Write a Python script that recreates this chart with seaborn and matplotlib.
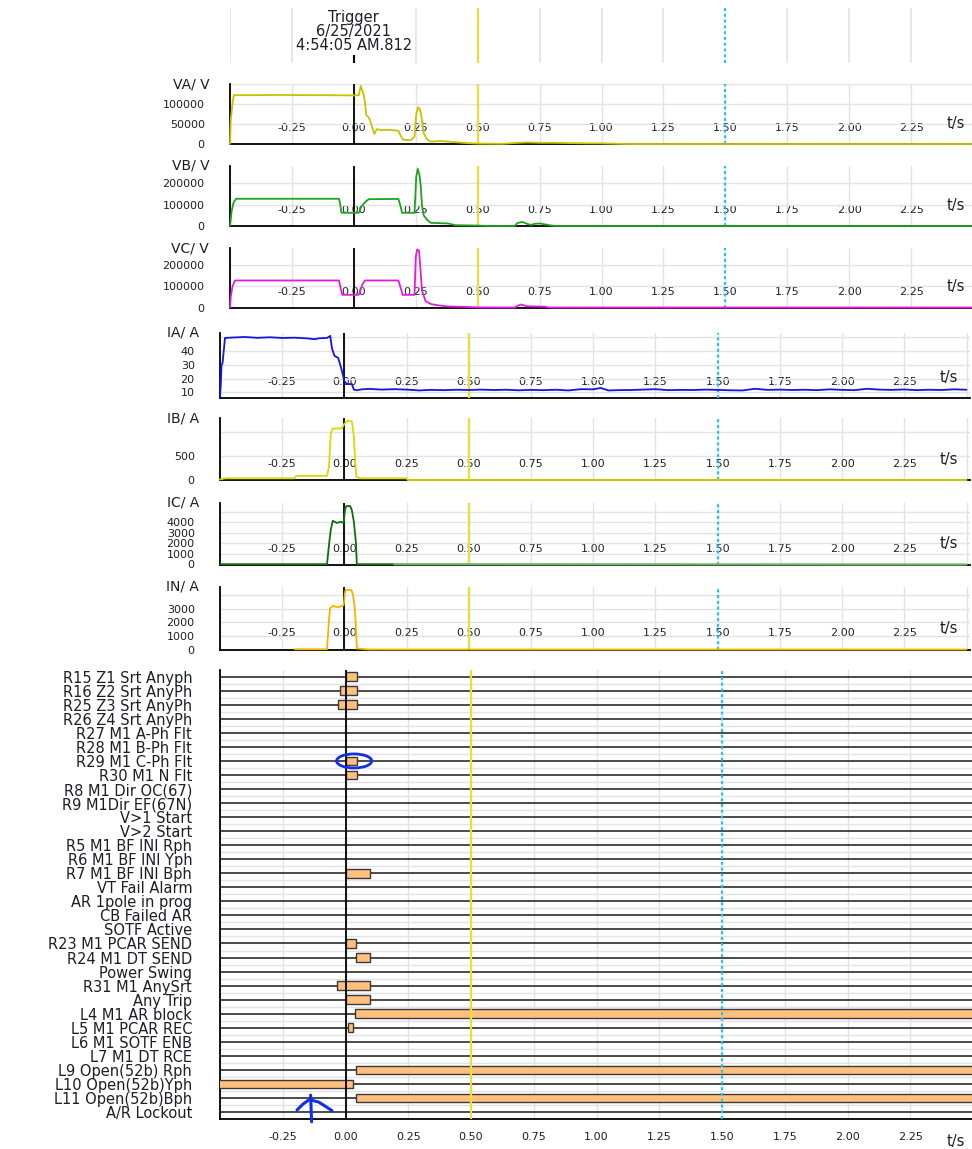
import numpy as np
import pandas as pd
import matplotlib
matplotlib.use("Agg")
import matplotlib.pyplot as plt
from matplotlib.patches import Ellipse
import seaborn as sns

# ---------------- data ----------------
TRIGGER_TEXT = "Trigger\n6/25/2021\n4:54:05 AM.812"
X_TICKS = [-0.5, -0.25, 0.0, 0.25, 0.5, 0.75, 1.0, 1.25, 1.5, 1.75, 2.0, 2.25, 2.5]
X_TICK_LABELS = ["", "-0.25", "0.00", "0.25", "0.50", "0.75", "1.00", "1.25",
                 "1.50", "1.75", "2.00", "2.25", ""]
TRIGGER_T = 0.0
CURSOR_1 = 0.5
CURSOR_2 = 1.5

VA_T = [-0.5, -0.497, -0.49, -0.485, -0.3, -0.1, 0.0, 0.02, 0.028, 0.033, 0.04, 0.045,
        0.05, 0.058, 0.065, 0.075, 0.083, 0.092, 0.11, 0.15, 0.18, 0.19, 0.2, 0.23,
        0.245, 0.252, 0.26, 0.268, 0.275, 0.282, 0.295, 0.31, 0.35, 0.4, 0.45, 0.5,
        0.6, 0.65, 0.7, 0.75, 0.8, 0.9, 1.0, 1.05, 1.1, 2.5]
VA_V = [0, 60000, 100000, 122000, 122500, 122000, 121500, 122000, 145000, 135000,
        122000, 105000, 72000, 68000, 60000, 40000, 25000, 37000, 35000, 35000, 33000,
        20000, 10000, 10000, 18000, 75000, 92000, 85000, 60000, 27000, 12000, 6000,
        7500, 5000, 2500, 1000, 500, 2500, 4000, 3000, 3000, 2000, 1500, 800, 0, 0]

VB_T = [-0.5, -0.497, -0.493, -0.485, -0.475, -0.06, -0.055, -0.05, 0.02, 0.03, 0.045,
        0.06, 0.18, 0.187, 0.195, 0.245, 0.252, 0.258, 0.265, 0.27, 0.275, 0.282,
        0.295, 0.31, 0.33, 0.38, 0.41, 0.5, 0.55, 0.65, 0.66, 0.68, 0.7, 0.715, 0.73,
        0.75, 0.77, 0.8, 0.82, 2.5]
VB_V = [0, 30000, 73000, 112000, 128000, 128000, 103000, 62000, 62000, 90000, 112000,
        126000, 127000, 100000, 62000, 62000, 230000, 268000, 240000, 190000, 100000,
        50000, 30000, 15000, 14000, 12000, 4000, 2000, 0, 0, 14000, 19000, 10000, 5000,
        10000, 12000, 8000, 2000, 0, 0]

VC_T = [-0.5, -0.497, -0.49, -0.48, -0.06, -0.053, -0.047, 0.02, 0.035, 0.045, 0.18,
        0.19, 0.197, 0.245, 0.25, 0.256, 0.263, 0.268, 0.275, 0.29, 0.31, 0.33, 0.38,
        0.45, 0.48, 0.5, 0.65, 0.66, 0.675, 0.7, 0.73, 0.77, 0.79, 2.5]
VC_V = [0, 50000, 100000, 128000, 128000, 90000, 60000, 60000, 110000, 128000, 128000,
        90000, 60000, 60000, 240000, 275000, 270000, 200000, 80000, 30000, 17000,
        12000, 5000, 3000, 1500, 500, 0, 8000, 14000, 6000, 5000, 4000, 0, 0]

IA_T = [-0.5, -0.497, -0.494, -0.49, -0.485, -0.48, -0.45, -0.4, -0.35, -0.3, -0.25,
        -0.2, -0.15, -0.12, -0.1, -0.07, -0.057, -0.05, -0.04, -0.025, -0.015, -0.008,
        0.0, 0.01, 0.03, 0.038, 0.05, 0.07, 0.1, 0.15, 0.2, 0.25, 0.3, 0.35, 0.4,
        0.45, 0.5, 0.55, 0.6, 0.65, 0.7, 0.75, 0.8, 0.85, 0.9, 0.95, 1.0, 1.03, 1.06,
        1.1, 1.15, 1.2, 1.25, 1.3, 1.35, 1.4, 1.45, 1.5, 1.55, 1.6, 1.65, 1.7, 1.75,
        1.8, 1.85, 1.9, 1.95, 2.0, 2.05, 2.1, 2.15, 2.2, 2.25, 2.3, 2.35, 2.4, 2.45,
        2.5]
IA_V = [6.5, 15, 30, 31, 40, 49.5, 49.8, 50.2, 49.6, 50, 49.5, 49.7, 49.2, 48.6, 49.3,
        49.5, 51, 42, 36.5, 35, 29, 24, 18, 16, 16, 12, 11.5, 12.2, 12.5, 12, 12.3,
        12, 11.4, 11.8, 11.6, 11.9, 11.7, 12, 11.7, 11.9, 11.5, 11.8, 11.6, 11.9,
        11.4, 12.3, 12.2, 13.2, 11.4, 11.6, 11.7, 12, 12.3, 11.6, 11.8, 11.7, 12.0,
        11.8, 11.5, 11.4, 12.6, 11.8, 12.0, 11.7, 11.9, 11.6, 12.2, 11.8, 11.6, 12.6,
        12.0, 11.8, 12.1, 11.6, 11.9, 11.7, 12.2, 11.9]

IB_T = [-0.5, -0.48, -0.2, -0.195, -0.07, -0.062, -0.055, -0.048, -0.01, 0.0, 0.015,
        0.03, 0.038, 0.043, 0.048, 0.06, 0.25, 0.255, 2.5]
IB_V = [10, 35, 35, 85, 85, 280, 960, 1070, 1075, 1170, 1240, 1220, 900, 410, 70, 35,
        35, 0, 0]

IC_T = [-0.5, -0.07, -0.06, -0.055, -0.047, -0.03, -0.015, -0.003, 0.003, 0.008,
        0.023, 0.03, 0.038, 0.046, 0.05, 0.2, 2.5]
IC_V = [30, 30, 2300, 3260, 4150, 3950, 4050, 3950, 5300, 5550, 5550, 5150, 4050,
        2150, 30, 30, 0]
IC_FADE_T = 0.2

IN_T = [-0.2, -0.07, -0.062, -0.058, -0.047, -0.03, -0.015, -0.003, 0.003, 0.008,
        0.028, 0.034, 0.042, 0.046, 0.05, 0.1, 2.5]
IN_V = [20, 20, 2150, 3000, 3200, 3100, 3150, 3250, 4250, 4380, 4350, 4050, 3000,
        1700, 70, 0, 0]

VA_TICKS, VA_TLAB = [0, 50000, 100000, 150000], ["0", "50000", "100000", ""]
VB_TICKS, VB_TLAB = [0, 100000, 200000], ["0", "100000", "200000"]
VC_TICKS, VC_TLAB = [0, 100000, 200000], ["0", "100000", "200000"]
IA_TICKS, IA_TLAB = [10, 20, 30, 40, 50], ["10", "20", "30", "40", ""]
IB_TICKS, IB_TLAB = [0, 500, 1000], ["0", "500", ""]
IC_TICKS, IC_TLAB = [0, 1000, 2000, 3000, 4000, 5000], ["0", "1000", "2000", "3000", "4000", ""]
IN_TICKS, IN_TLAB = [0, 1000, 2000, 3000, 4000], ["0", "1000", "2000", "3000", ""]

CHANNELS = ["R15 Z1 Srt Anyph", "R16 Z2 Srt AnyPh", "R25 Z3 Srt AnyPh", "R26 Z4 Srt AnyPh",
            "R27 M1 A-Ph Flt", "R28 M1 B-Ph Flt", "R29 M1 C-Ph Flt", "R30 M1 N Flt",
            "R8 M1 Dir OC(67)", "R9 M1Dir EF(67N)", "V>1 Start", "V>2 Start",
            "R5 M1 BF INI Rph", "R6 M1 BF INI Yph", "R7 M1 BF INI Bph", "VT Fail Alarm",
            "AR 1pole in prog", "CB Failed AR", "SOTF Active", "R23 M1 PCAR SEND",
            "R24 M1 DT SEND", "Power Swing", "R31 M1 AnySrt", "Any Trip",
            "L4 M1 AR block", "L5 M1 PCAR REC", "L6 M1 SOTF ENB", "L7 M1 DT RCE",
            "L9 Open(52b) Rph", "L10 Open(52b)Yph", "L11 Open(52b)Bph", "A/R Lockout"]
BAR_CH = ["R15 Z1 Srt Anyph", "R16 Z2 Srt AnyPh", "R25 Z3 Srt AnyPh", "R29 M1 C-Ph Flt",
          "R30 M1 N Flt", "R7 M1 BF INI Bph", "R23 M1 PCAR SEND", "R24 M1 DT SEND",
          "R31 M1 AnySrt", "Any Trip", "L4 M1 AR block", "L5 M1 PCAR REC",
          "L9 Open(52b) Rph", "L10 Open(52b)Yph", "L11 Open(52b)Bph"]
BAR_START = [0.0, -0.021, -0.028, 0.0, 0.0, 0.0, 0.0, 0.043, -0.034, 0.0, 0.036, 0.009,
             0.043, -0.6, 0.043]
BAR_END = [0.045, 0.045, 0.045, 0.045, 0.045, 0.098, 0.043, 0.098, 0.098, 0.098, 2.6,
           0.03, 2.6, 0.03, 2.6]

# hand-drawn marks on the reference
CIRCLED_CH = "R29 M1 C-Ph Flt"
ARROW_STEM_T, ARROW_STEM_R = [-0.139, -0.135], [29.8, 31.7]
ARROW_L_T, ARROW_L_R = [-0.193, -0.169, -0.141], [30.86, 30.43, 30.08]
ARROW_R_T, ARROW_R_R = [-0.137, -0.106, -0.054], [30.15, 30.3, 30.9]

# ---------------- style ----------------
sns.set_theme(style="white")
plt.rcParams["font.family"] = ["DejaVu Sans"]

W, H = 972, 1149
fig = plt.figure(figsize=(W / 100, H / 100), dpi=100)
fig.patch.set_facecolor("white")

GRID = "#E3E3E3"
YEL = "#E6E13A"
CYAN = "#1EC4F2"
TXT = "#1E1E28"
PT = 0.72  # points per pixel
TICK_FS = 8


def px_axes(x0, top, x1, bottom):
    return fig.add_axes([x0 / W, 1 - bottom / H, (x1 - x0) / W, (bottom - top) / H])


def cursors(ax):
    ax.axvline(TRIGGER_T, color="black", lw=1.3, zorder=5)
    ax.axvline(CURSOR_1, color=YEL, lw=1.6, zorder=5)
    ax.axvline(CURSOR_2, color=CYAN, lw=1.6, ls=(0, (1.3, 1.3)), zorder=5)


# header
hx = px_axes(230, 8, 973, 63)
hx.set_xlim(-0.5, 2.5)
hx.set_ylim(0, 1)
hx.axis("off")
grey_t = [v for v in X_TICKS if v not in (TRIGGER_T, CURSOR_1, CURSOR_2)]
hx.vlines(grey_t, 0, 1, color=GRID, lw=1.2)
hx.vlines([TRIGGER_T], 0, 0.15, color="black", lw=1.5)
hx.axvline(CURSOR_1, color=YEL, lw=1.6)
hx.axvline(CURSOR_2, color=CYAN, lw=1.6, ls=(0, (1.3, 1.3)))
hx.text(TRIGGER_T, 0.58, TRIGGER_TEXT, ha="center", va="center", fontsize=10.5,
        linespacing=0.92, color=TXT)


def analog(geom, xmax, t, v, color, ylim, ticks, tlab, label, tsx, fade=None):
    ax = px_axes(*geom)
    ax.set_xlim(-0.5, xmax)
    ax.set_ylim(*ylim)
    ax.set_xticks(X_TICKS)
    ax.set_xticklabels(X_TICK_LABELS)
    ax.set_yticks(ticks)
    ax.set_yticklabels(tlab)
    ax.grid(True, color=GRID, lw=1)
    ax.set_axisbelow(True)
    for s in ["top", "right"]:
        ax.spines[s].set_visible(False)
    for s in ["left", "bottom"]:
        ax.spines[s].set_color("black")
        ax.spines[s].set_linewidth(1.3)
    ax.tick_params(axis="x", direction="inout", length=10 * PT, width=1.4, color="black",
                   pad=-26 * PT, labelsize=TICK_FS, labelcolor=TXT)
    ax.tick_params(axis="y", direction="out", length=10 * PT, width=1.1, color="black",
                   pad=11, labelsize=TICK_FS, labelcolor=TXT)
    cursors(ax)
    df = pd.DataFrame({"t": t, "v": v})
    if fade is None:
        sns.lineplot(data=df, x="t", y="v", ax=ax, color=color, lw=1.3, estimator=None,
                     sort=False, zorder=6, clip_on=False)
    else:
        ftime, fcol = fade
        sns.lineplot(data=df[df.t <= ftime], x="t", y="v", ax=ax, color=color, lw=1.3,
                     estimator=None, sort=False, zorder=6, clip_on=False)
        sns.lineplot(data=df[df.t >= ftime], x="t", y="v", ax=ax, color=fcol, lw=1.6,
                     estimator=None, sort=False, zorder=6, clip_on=False)
    ax.set_xlabel("")
    ax.set_ylabel("")
    ax.xaxis.get_major_ticks()[X_TICKS.index(CURSOR_1)].tick1line.set_color("#2F5BEA")
    ax.annotate(label, xy=(0, 1), xycoords="axes fraction", xytext=(-15, 0),
                textcoords="offset points", ha="right", va="center", fontsize=10,
                color=TXT)
    ax.annotate("t/s", xy=(tsx, 0), xycoords="axes fraction", xytext=(0, 15),
                textcoords="offset points", ha="center", va="center", fontsize=10.5,
                color=TXT)
    return ax


analog((230, 84, 973, 144), 2.5, VA_T, VA_V, "#C8C200", (0, 150000), VA_TICKS, VA_TLAB,
       "VA/ V", 0.977)
analog((230, 166, 973, 226), 2.5, VB_T, VB_V, "#1FA31F", (0, 282000), VB_TICKS, VB_TLAB,
       "VB/ V", 0.977)
analog((230, 248, 973, 307.5), 2.5, VC_T, VC_V, "#E01EE0", (0, 282000), VC_TICKS, VC_TLAB,
       "VC/ V", 0.977)
analog((220, 333, 970, 398), 2.514, IA_T, IA_V, "#1515E0", (5.9, 53.1), IA_TICKS, IA_TLAB,
       "IA/ A", 0.972)
analog((220, 418, 970, 480), 2.514, IB_T, IB_V, "#DCD800", (0, 1290), IB_TICKS, IB_TLAB,
       "IB/ A", 0.972)
analog((220, 503, 970, 564.5), 2.514, IC_T, IC_V, "#0E6E0E", (0, 5840), IC_TICKS, IC_TLAB,
       "IC/ A", 0.972, fade=(IC_FADE_T, "#6DB46D"))
analog((220, 587, 970, 649.5), 2.514, IN_T, IN_V, "#F6B400", (0, 4580), IN_TICKS, IN_TLAB,
       "IN/ A", 0.972)

# digital channels
dx = px_axes(220, 669.7, 973, 1119)
n = len(CHANNELS)
dx.set_xlim(-0.5, 2.5)
dx.set_ylim(n - 0.5, -0.5)
dx.set_yticks(range(n))
dx.set_yticklabels(CHANNELS)
dx.set_yticks(np.arange(n) + 0.5, minor=True)
dx.set_xticks(X_TICKS)
dx.set_xticklabels(X_TICK_LABELS)
dx.grid(True, which="major", axis="x", color=GRID, lw=1)
dx.grid(True, which="minor", axis="y", color=GRID, lw=1)
dx.set_axisbelow(True)
for s in ["top", "right"]:
    dx.spines[s].set_visible(False)
for s in ["left", "bottom"]:
    dx.spines[s].set_color("black")
    dx.spines[s].set_linewidth(1.3)
dx.tick_params(axis="y", which="both", length=0, pad=20, labelsize=10.5, labelcolor=TXT)
dx.tick_params(axis="x", direction="out", length=7 * PT, width=1.2, color="black",
               pad=4, labelsize=TICK_FS, labelcolor=TXT)
dx.hlines(range(n), -0.5, 2.5, color="#1A1A1A", lw=1.1, zorder=2)
cursors(dx)
rows = [CHANNELS.index(c) for c in BAR_CH]
starts = np.array(BAR_START)
ends = np.array(BAR_END)
dx.barh(rows, ends - starts, left=starts, height=0.62, color="#FFC07E",
        edgecolor="#3A3A3A", lw=1.0, zorder=4)
dx.annotate("t/s", xy=(0.977, 0), xycoords="axes fraction", xytext=(0, -16),
            textcoords="offset points", ha="center", va="center", fontsize=10.5, color=TXT)

# hand-drawn marks
ci = BAR_CH.index(CIRCLED_CH)
dx.add_patch(Ellipse(((BAR_START[ci] + BAR_END[ci]) / 2 + 0.012, CHANNELS.index(CIRCLED_CH)),
                     0.14, 1.0, fill=False, ec="#1030E8", lw=2.0, zorder=7))
for tt, rr in [(ARROW_STEM_T, ARROW_STEM_R), (ARROW_L_T, ARROW_L_R), (ARROW_R_T, ARROW_R_R)]:
    dx.plot(tt, rr, color="#1030E8", lw=2.2, clip_on=False, zorder=7,
            solid_capstyle="round")

fig.savefig("out.png", dpi=100, facecolor="white")
